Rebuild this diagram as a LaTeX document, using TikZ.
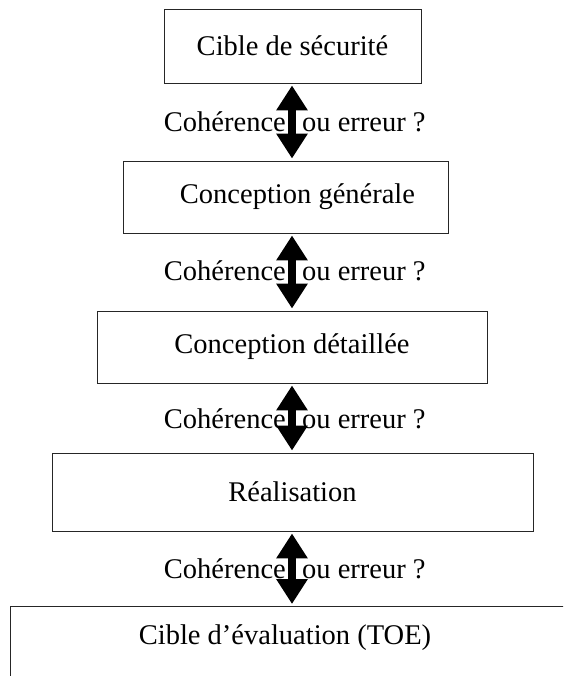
\documentclass[tikz,border=0pt]{standalone}
\usepackage{fontspec}
\setmainfont{Liberation Serif}
\usetikzlibrary{arrows.meta}
\begin{document}
\begin{tikzpicture}[x=1pt,y=-1pt,
  every node/.style={font=\fontsize{28.5}{34}\selectfont},
  box/.style={draw=black!85, line width=0.9pt, inner sep=0pt},
  bigarrow/.style={line width=8pt, shorten <=2pt, shorten >=2pt,
    {Triangle[width=30pt,length=25pt]}-{Triangle[width=30pt,length=25pt]}},
  lbl/.style={inner sep=0pt}]
\clip (0,0) rectangle (563,676);
\fill[white] (0,0) rectangle (563,676);
\coordinate (c) at (292,0);
\node[box, minimum width=257pt, minimum height=74pt] (b1) at (292.5,46) {Cible de sécurité};
\node[box, minimum width=325pt, minimum height=72pt] (b2) at (285.5,197) {\hspace*{24pt}Conception générale};
\node[box, minimum width=390pt, minimum height=72pt] (b3) at (292,347) {Conception détaillée};
\node[box, minimum width=481pt, minimum height=78pt] (b4) at (292.5,492) {Réalisation};
\node[inner sep=0pt] (b5) at (285,638) {Cible d’évaluation (TOE)};
\coordinate (b5tl) at (10,606);
\draw[black!85, line width=0.9pt] (b5tl |- 0,690) -- (b5tl) -- (b5tl -| 600,0);
\draw[bigarrow] (b1.south -| c) -- (b2.north -| c);
\draw[bigarrow] (b2.south -| c) -- (b3.north -| c);
\draw[bigarrow] (b3.south -| c) -- (b4.north -| c);
\draw[bigarrow] (b4.south -| c) -- (b5tl -| c);
\foreach \y/\n in {122/1,271/2,419/3,569/4}{
  \node[lbl, anchor=east] (lc\n) at (286,\y) {Cohérence};
  \node[lbl, anchor=west] (le\n) at (302,\y) {ou erreur ?};
}
\end{tikzpicture}
\end{document}
